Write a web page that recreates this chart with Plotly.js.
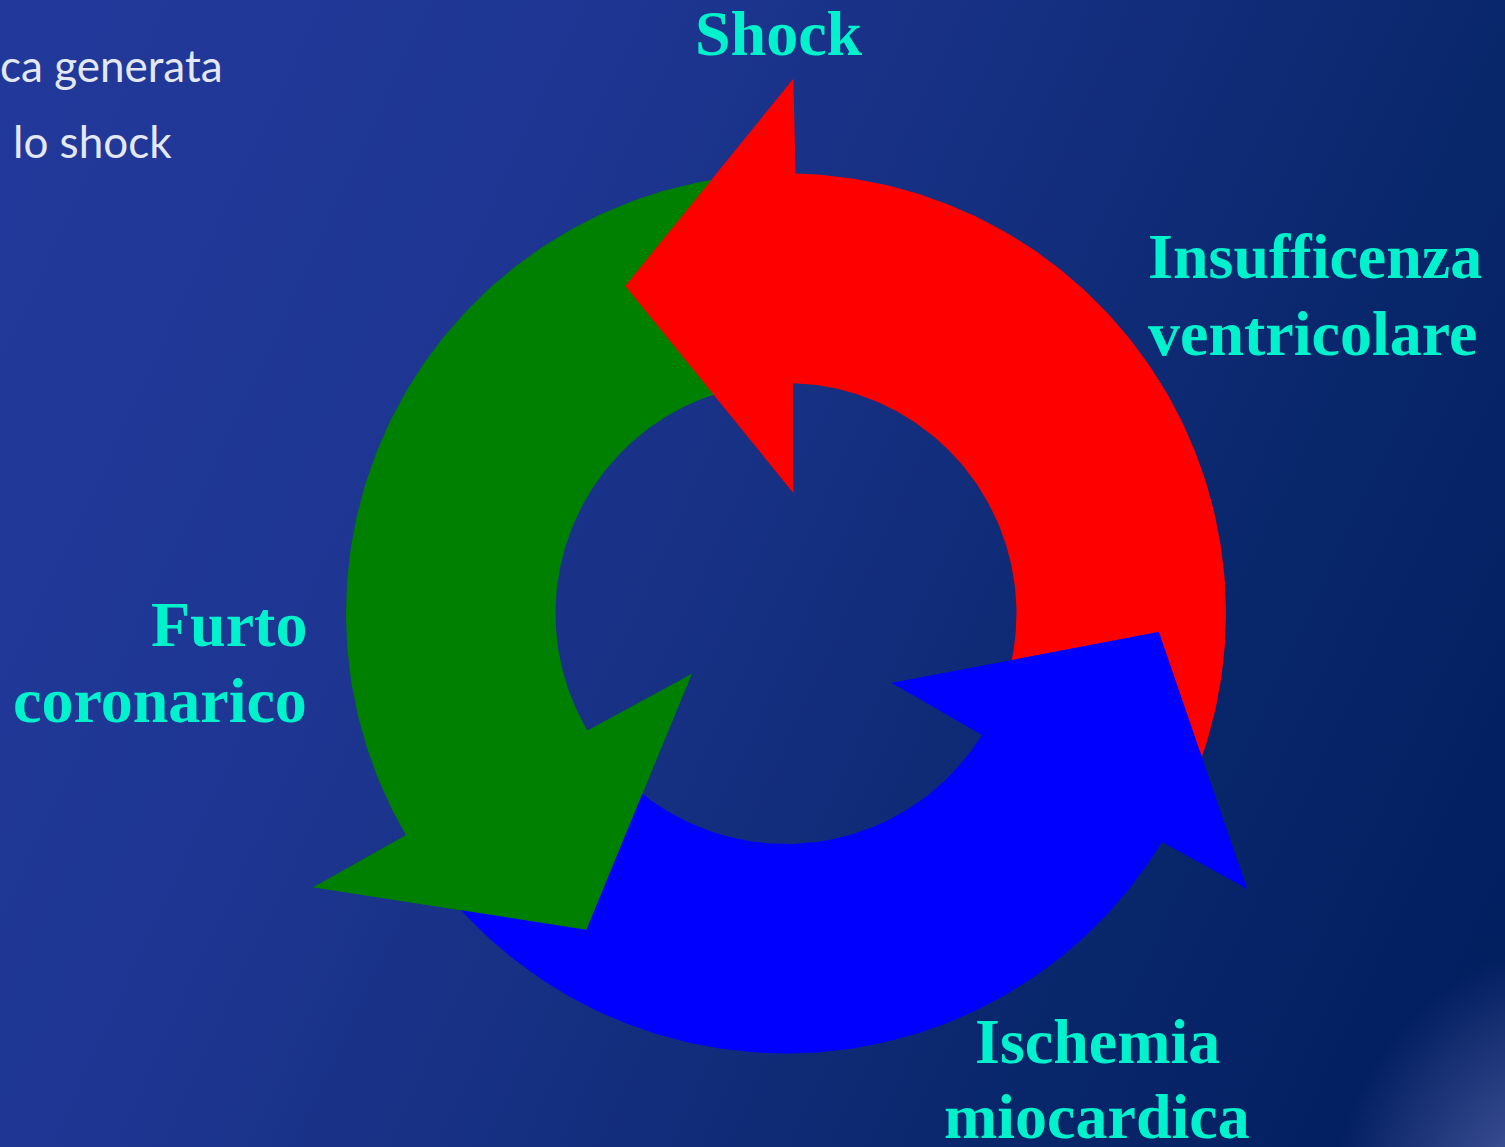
<!DOCTYPE html>
<html>
<head>
<meta charset="utf-8">
<script src="https://cdn.plot.ly/plotly-3.0.1.min.js"></script>
<style>
  html, body { margin: 0; padding: 0; width: 1505px; height: 1147px; overflow: hidden; }
  body {
    background:
      radial-gradient(ellipse 260px 300px at 1585px 1240px,
        rgba(125,135,195,0.95) 0%, rgba(85,100,170,0.6) 48%, rgba(0,30,96,0) 100%),
      linear-gradient(115deg, #22399b 0%, #1e3692 30%, #152f80 52%, #08266a 76%, #001d5d 100%);
  }
  #chart { width: 1505px; height: 1147px; }
</style>
</head>
<body>
<div id="chart"></div>
<script>
// Vicious circle of cardiogenic shock: three curved arrows around a ring.
// Angles in degrees, counter-clockwise from 3 o'clock.
const arrowNames  = ['Insufficenza ventricolare', 'Shock', 'Furto coronarico'];
const arrowTail   = [-25, 94, 215];       // where each arrow body starts
const arrowHead   = [88.75, 210.5, 328.7]; // where each arrowhead base crosses the ring
const arrowColors = ['#ff0000', '#008000', '#0000ff'];

// Stage labels (one entry per line)
const labelLines = [
  ['Shock'],
  ['Insufficenza', 'ventricolare'],
  ['Ischemia', 'miocardica'],
  ['Furto', 'coronarico']
];

// Slide text partially visible at the top-left
const slideLines = ['ca generata', 'lo shock'];

// Ring geometry (pixel units; axes map 1 unit = 1 px)
const W = 1505, H = 1147;
const cx = 786, cy = 613.5;
const rIn = 230.5, rOut = 440;
const rMid = (rIn + rOut) / 2;
// arrowhead shape per arrow: inner / outer barb radius, tip length, tilt of the base
const headShape = [
  { hIn: 120.9, hOut: 534.5, tip: 168, tilt: 1.25 },
  { hIn: 112.0, hOut: 546.3, tip: 171, tilt: -1.1 },
  { hIn: 126.6, hOut: 537.0, tip: 178, tilt: 1.2 }
];

const rad = d => d * Math.PI / 180;
const pt = (r, deg) => [cx + r * Math.cos(rad(deg)), cy - r * Math.sin(rad(deg))];

function headPoints(a1, s) {
  const o = a1 + s.tilt;
  const P = pt(rMid, a1);
  const u = [Math.cos(rad(o)), -Math.sin(rad(o))];
  const outer = [P[0] + u[0] * (s.hOut - rMid), P[1] + u[1] * (s.hOut - rMid)];
  const inner = [P[0] + u[0] * (s.hIn - rMid), P[1] + u[1] * (s.hIn - rMid)];
  const m = [(outer[0] + inner[0]) / 2, (outer[1] + inner[1]) / 2];
  const tip = [m[0] - s.tip * Math.sin(rad(o)), m[1] - s.tip * Math.cos(rad(o))];
  return [outer, tip, inner];
}

function arrowPolygon(a0, a1, s) {
  const xs = [], ys = [];
  const n = 160;
  for (let i = 0; i <= n; i++) {
    const p = pt(rOut, a0 + (a1 - a0) * i / n);
    xs.push(p[0]); ys.push(p[1]);
  }
  headPoints(a1, s).forEach(p => { xs.push(p[0]); ys.push(p[1]); });
  for (let i = n; i >= 0; i--) {
    const p = pt(rIn, a0 + (a1 - a0) * i / n);
    xs.push(p[0]); ys.push(p[1]);
  }
  xs.push(xs[0]); ys.push(ys[0]);
  return { x: xs, y: ys };
}

const traces = [];
// full arrows first
arrowNames.forEach((name, i) => {
  const poly = arrowPolygon(arrowTail[i], arrowHead[i], headShape[i]);
  traces.push({
    type: 'scatter', mode: 'lines', name: name,
    x: poly.x, y: poly.y, fill: 'toself',
    fillcolor: arrowColors[i], line: { width: 0, color: arrowColors[i] },
    hoverinfo: 'skip'
  });
});
// arrowheads again on top, so each head overlaps the next arrow's tail
arrowNames.forEach((name, i) => {
  const h = headPoints(arrowHead[i], headShape[i]);
  traces.push({
    type: 'scatter', mode: 'lines', name: name + ' (head)',
    x: h.map(p => p[0]).concat([h[0][0]]),
    y: h.map(p => p[1]).concat([h[0][1]]),
    fill: 'toself', fillcolor: arrowColors[i],
    line: { width: 0, color: arrowColors[i] },
    hoverinfo: 'skip'
  });
});

// label placement: anchor x, alignment, first baseline, line step
const labelFont = { family: 'Liberation Serif, Times New Roman, serif', size: 64, color: '#00f2cc' };
const labelPlace = [
  { x: 779, anchor: 'center', base: 55, step: 0 },
  { x: 1147, anchor: 'left', base: 278, step: 77 },
  { x: 1097, anchor: 'center', base: 1063, step: 75 },
  { x: 308, anchor: 'right', base: 646, step: 76 }
];
const serifOffset = 21.6; // baseline below box centre for 64px serif

const annotations = [];
labelLines.forEach((lines, i) => {
  const pl = labelPlace[i];
  lines.forEach((txt, j) => {
    annotations.push({
      x: pl.x, y: pl.base + j * pl.step - serifOffset,
      xref: 'x', yref: 'y', text: '<b>' + txt + '</b>',
      showarrow: false, xanchor: pl.anchor, yanchor: 'middle',
      borderpad: 0, font: labelFont
    });
  });
});

const slideFont = { family: 'Lato, Open Sans, sans-serif', size: 44, color: '#e4e8f5' };
const slidePlace = [ { x: 0, shift: -1, base: 82 }, { x: 12, shift: 0, base: 158 } ];
slideLines.forEach((txt, i) => {
  annotations.push({
    x: slidePlace[i].x, xshift: slidePlace[i].shift, y: slidePlace[i].base - 17,
    xref: 'x', yref: 'y', text: txt, showarrow: false,
    xanchor: 'left', yanchor: 'middle', borderpad: 0, font: slideFont
  });
});

const layout = {
  width: W, height: H,
  margin: { l: 0, r: 0, t: 0, b: 0, pad: 0 },
  paper_bgcolor: 'rgba(0,0,0,0)',
  plot_bgcolor: 'rgba(0,0,0,0)',
  showlegend: false,
  hovermode: false,
  xaxis: { range: [0, W], visible: false, fixedrange: true },
  yaxis: { range: [H, 0], visible: false, fixedrange: true },
  annotations: annotations
};

Plotly.newPlot('chart', traces, layout, { staticPlot: true, displayModeBar: false });
</script>
</body>
</html>
